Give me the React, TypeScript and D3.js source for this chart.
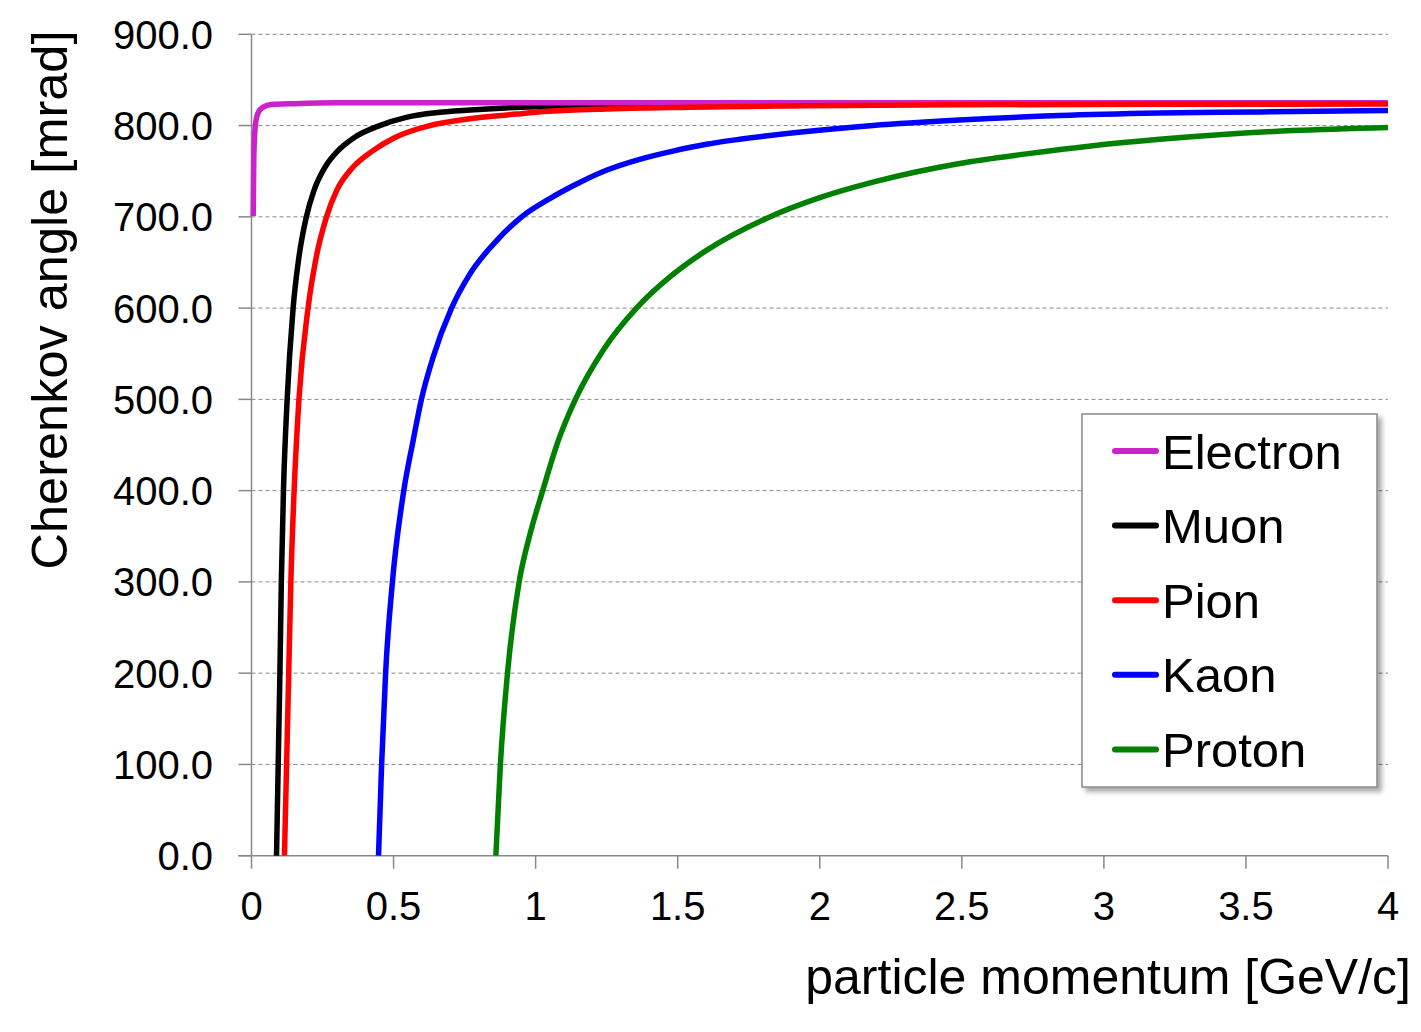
/** Cherenkov angle vs particle momentum, one curve per particle species. */

import * as d3 from "d3";

type Pt = [number, number]; // [momentum GeV/c, Cherenkov angle mrad]

const electron: Pt[] = [
  [0.006, 701], [0.008, 760], [0.011, 790], [0.016, 806], [0.025, 815],
  [0.04, 820], [0.07, 823], [0.15, 824], [0.3, 825], [1, 825], [2, 825],
  [3, 825], [4, 825],
];

const muon: Pt[] = [
  [0.088, 0], [0.1, 200], [0.105, 300], [0.1125, 400], [0.1255, 500],
  [0.1465, 600], [0.167, 656], [0.193, 700], [0.22, 729], [0.258, 754],
  [0.303, 772], [0.362, 787], [0.451, 800], [0.545, 809], [0.663, 814.5],
  [0.815, 818], [1.05, 821.3], [1.48, 823.2], [2, 823.8], [3, 824.2],
  [4, 824.5],
];

const pion: Pt[] = [
  [0.116, 0], [0.1235, 100], [0.131, 200], [0.1385, 300], [0.15, 400],
  [0.167, 500], [0.199, 600], [0.228, 656], [0.264, 700], [0.3, 729],
  [0.356, 754], [0.425, 772], [0.505, 787], [0.627, 800], [0.756, 807],
  [0.932, 812.6], [1.03, 815.3], [1.48, 819.8], [1.95, 821.7],
  [2.49, 822.8], [3.2, 823.3], [4, 823.5],
];

const kaon: Pt[] = [
  [0.447, 0], [0.458, 100], [0.472, 200], [0.496, 300], [0.536, 400],
  [0.569, 455], [0.598, 500], [0.639, 546], [0.704, 600], [0.768, 637],
  [0.863, 674], [0.951, 700], [1.05, 720], [1.132, 734], [1.249, 751],
  [1.366, 763], [1.483, 772], [1.601, 779.5], [1.718, 785], [1.953, 793.5],
  [2.187, 800], [2.492, 806], [2.844, 811], [3.196, 813.7], [3.548, 815],
  [4, 816.6],
];

const proton: Pt[] = [
  [0.86, 0], [0.876, 100], [0.901, 200], [0.942, 300], [0.98, 352],
  [1.025, 400], [1.08, 455], [1.14, 500], [1.24, 555], [1.355, 600],
  [1.48, 636], [1.6, 663], [1.81, 698], [2, 721], [2.187, 738],
  [2.492, 758.5], [2.727, 769], [2.961, 778], [3.196, 785], [3.431, 790.5],
  [3.665, 794.5], [4, 798],
];

const seriesNames = ["Electron", "Muon", "Pion", "Kaon", "Proton"];
const seriesColors = ["#CC22CC", "#000000", "#FF0000", "#0000FF", "#008000"];
const seriesData = [electron, muon, pion, kaon, proton];
// muon sits under the electron line where they merge, pion on top of both
const drawOrder = [1, 0, 2, 3, 4];

const xTicks = [0, 0.5, 1, 1.5, 2, 2.5, 3, 3.5, 4];
const yTicks = [0, 100, 200, 300, 400, 500, 600, 700, 800, 900];

const W = 1421;
const H = 1032;
const FONT = "'Liberation Sans', Arial, sans-serif";
const AXIS = "#888888";

export default function App() {
  const x = d3.scaleLinear().domain([0, 4]).range([251.5, 1388]);
  const y = d3.scaleLinear().domain([0, 900]).range([855.7, 34.3]);
  const [x0, x1] = x.range();

  const line = d3
    .line<Pt>()
    .x((d) => x(d[0]))
    .y((d) => y(d[1]))
    .curve(d3.curveMonotoneX);

  // legend box
  const lg = { x: 1082, y: 414, w: 295, h: 373, row0: 451, step: 74.6 };

  return (
    <svg
      width={W}
      height={H}
      style={{ position: "absolute", left: 0, top: 0, background: "#fff" }}
      fontFamily={FONT}
    >
      <defs>
        <filter id="shadow" x="-10%" y="-10%" width="130%" height="130%">
          <feDropShadow dx={4} dy={4} stdDeviation={2.5} floodColor="#000" floodOpacity={0.35} />
        </filter>
      </defs>

      {/* horizontal gridlines */}
      {yTicks.slice(1).map((t) => (
        <line
          key={`g${t}`}
          x1={x0}
          x2={x1}
          y1={y(t)}
          y2={y(t)}
          stroke={AXIS}
          strokeWidth={1}
          strokeDasharray="4 3"
        />
      ))}

      {/* axes */}
      <line x1={x0} x2={x0} y1={y(900)} y2={y(0)} stroke={AXIS} strokeWidth={1.5} />
      <line x1={x0 - 13} x2={x1} y1={y(0)} y2={y(0)} stroke={AXIS} strokeWidth={1.5} />
      {yTicks.map((t) => (
        <g key={`y${t}`}>
          <line x1={x0 - 13} x2={x0} y1={y(t)} y2={y(t)} stroke={AXIS} strokeWidth={1.5} />
          <text x={213} y={y(t)} dy="0.36em" textAnchor="end" fontSize={40}>
            {t.toFixed(1)}
          </text>
        </g>
      ))}
      {xTicks.map((t) => (
        <g key={`x${t}`}>
          <line x1={x(t)} x2={x(t)} y1={y(0)} y2={y(0) + 13} stroke={AXIS} strokeWidth={1.5} />
          <text x={x(t)} y={920} textAnchor="middle" fontSize={40}>
            {String(t)}
          </text>
        </g>
      ))}

      {/* axis titles */}
      <text x={1411} y={994} textAnchor="end" fontSize={50}>
        particle momentum [GeV/c]
      </text>
      <text
        transform="translate(67,300) rotate(-90)"
        textAnchor="middle"
        fontSize={50.5}
      >
        Cherenkov angle [mrad]
      </text>

      {/* curves */}
      {drawOrder.map((i) => (
        <path
          key={seriesNames[i]}
          d={line(seriesData[i]) ?? ""}
          fill="none"
          stroke={seriesColors[i]}
          strokeWidth={5.5}
          strokeLinejoin="round"
        />
      ))}

      {/* legend */}
      <rect
        x={lg.x}
        y={lg.y}
        width={lg.w}
        height={lg.h}
        fill="#fff"
        stroke={AXIS}
        strokeWidth={1.5}
        filter="url(#shadow)"
      />
      {seriesNames.map((name, i) => {
        const ry = lg.row0 + i * lg.step;
        return (
          <g key={`l${name}`}>
            <line
              x1={1115}
              x2={1156}
              y1={ry}
              y2={ry}
              stroke={seriesColors[i]}
              strokeWidth={6}
              strokeLinecap="round"
            />
            <text x={1162} y={ry} dy="0.36em" fontSize={49}>
              {name}
            </text>
          </g>
        );
      })}
    </svg>
  );
}
